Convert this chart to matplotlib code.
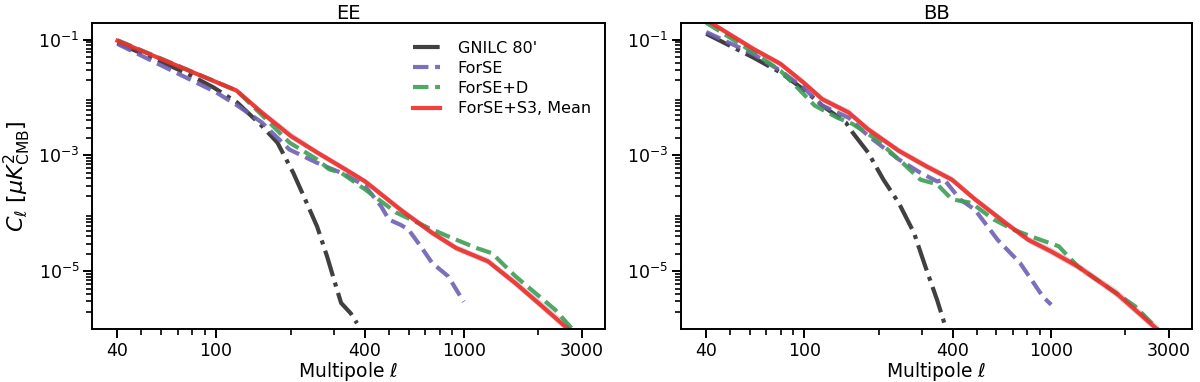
import numpy as np
import matplotlib
matplotlib.use("Agg")
import matplotlib.pyplot as plt
from matplotlib.ticker import FixedLocator, LogLocator, NullFormatter

# ---- data (log10 C_ell) ----
# EE
ee_mean_ell = [40, 121, 153, 201, 256, 332, 400, 556, 746, 931, 1252, 1619, 2013, 2672, 3000]
ee_mean = [-1.02, -1.88, -2.26, -2.67, -2.95, -3.24, -3.45, -3.94, -4.34, -4.60, -4.83, -5.21, -5.56, -6.02, -6.25]
ee_band_hi = [-0.98, -1.84, -2.20, -2.60, -2.90, -3.18, -3.40, -3.88, -4.28, -4.54, -4.77, -5.14, -5.48, -5.94, -6.17]
ee_band_lo = [-1.05, -1.92, -2.31, -2.72, -3.00, -3.29, -3.50, -3.99, -4.39, -4.65, -4.88, -5.27, -5.62, -6.08, -6.32]

ee_gnilc_ell = [40, 60, 80, 98, 122, 153, 177, 205, 229, 256, 281, 308, 320, 350, 371]
ee_gnilc = [-1.06, -1.38, -1.63, -1.83, -2.09, -2.49, -2.78, -3.30, -3.76, -4.23, -4.75, -5.32, -5.55, -5.73, -5.90]

ee_forse_ell = [40, 100, 122, 153, 198, 256, 332, 400, 464, 499, 556, 598, 670, 746, 866, 1000]
ee_forse = [-1.075, -1.91, -2.14, -2.43, -2.90, -3.13, -3.33, -3.53, -3.88, -4.11, -4.20, -4.28, -4.57, -4.86, -5.09, -5.53]

ee_forsed_ell = [40, 121, 153, 198, 256, 286, 320, 400, 535, 718, 866, 1124, 1300, 1619, 2344, 2730, 3000]
ee_forsed = [-1.01, -1.88, -2.30, -2.78, -3.07, -3.24, -3.30, -3.59, -3.99, -4.25, -4.40, -4.60, -4.69, -5.09, -5.67, -5.99, -6.20]

# BB
bb_mean_ell = [40, 62, 80, 99, 118, 151, 181, 241, 309, 396, 491, 654, 808, 1000, 1283, 1533, 1834, 2193, 2665, 3000]
bb_mean = [-0.66, -1.16, -1.42, -1.74, -2.03, -2.26, -2.55, -2.92, -3.18, -3.42, -3.76, -4.17, -4.46, -4.66, -4.92, -5.15, -5.38, -5.67, -5.99, -6.25]
bb_band_hi = [-0.62, -1.11, -1.37, -1.69, -1.97, -2.20, -2.49, -2.86, -3.12, -3.36, -3.70, -4.11, -4.40, -4.59, -4.85, -5.08, -5.30, -5.59, -5.91, -6.17]
bb_band_lo = [-0.70, -1.21, -1.47, -1.79, -2.08, -2.31, -2.60, -2.97, -3.23, -3.47, -3.81, -4.22, -4.51, -4.72, -4.98, -5.21, -5.45, -5.74, -6.06, -6.32]

bb_gnilc_ell = [40, 62, 80, 99, 118, 147, 157, 181, 209, 241, 278, 309, 345, 369, 385]
bb_gnilc = [-0.90, -1.31, -1.57, -1.86, -2.14, -2.43, -2.61, -2.95, -3.42, -3.82, -4.34, -4.92, -5.50, -5.90, -6.10]

bb_forse_ell = [40, 62, 80, 99, 118, 151, 181, 241, 295, 345, 369, 427, 491, 607, 748, 832, 925, 1000]
bb_forse = [-0.87, -1.25, -1.54, -1.83, -2.14, -2.35, -2.66, -3.07, -3.30, -3.45, -3.42, -3.76, -3.94, -4.46, -4.86, -5.15, -5.44, -5.58]

bb_forsed_ell = [40, 62, 80, 95, 110, 136, 157, 195, 250, 295, 345, 396, 474, 586, 700, 866, 1072, 1283, 1533, 2193, 2720, 3000]
bb_forsed = [-0.71, -1.22, -1.54, -1.86, -2.14, -2.35, -2.46, -2.72, -3.13, -3.42, -3.50, -3.76, -3.82, -4.11, -4.28, -4.43, -4.57, -4.92, -5.15, -5.61, -6.02, -6.20]

major_ticks = [40, 100, 400, 1000, 3000]

c_black = "#2b2b2b"
c_purple = "#6f60b3"
c_green = "#3d9e55"
c_red = "#f22a2a"

plt.rcParams["font.family"] = "DejaVu Sans"
fig = plt.figure(figsize=(12, 3.82), dpi=100)
ax1 = fig.add_axes([0.0767, 0.1387, 0.4275, 0.80])
ax2 = fig.add_axes([0.5675, 0.1387, 0.4258, 0.80])


def draw(ax, mean_ell, mean, lo, hi, g_ell, g, f_ell, f, d_ell, d, title):
    p = lambda v: 10.0 ** np.array(v)
    ax.fill_between(mean_ell, p(lo), p(hi), color="#b8b8b8", alpha=0.55, lw=0)
    ax.plot(g_ell, p(g), ls="-.", color=c_black, lw=3, alpha=0.9, label="GNILC 80'")
    ax.plot(f_ell, p(f), ls="--", color=c_purple, lw=3, alpha=0.9, label="ForSE")
    ax.plot(d_ell, p(d), ls="--", color=c_green, lw=3, alpha=0.9, label="ForSE+D")
    ax.plot(mean_ell, p(mean), ls="-", color=c_red, lw=3, alpha=0.9, label="ForSE+S3, Mean")
    ax.set_xscale("log")
    ax.set_yscale("log")
    ax.set_xlim(31.6, 3720)
    ax.set_ylim(1e-6, 0.19)
    ax.xaxis.set_major_locator(FixedLocator(major_ticks))
    ax.set_xticklabels([str(t) for t in major_ticks])
    ax.xaxis.set_minor_locator(LogLocator(base=10, subs=np.arange(2, 10)))
    ax.xaxis.set_minor_formatter(NullFormatter())
    ax.yaxis.set_major_locator(FixedLocator([1e-5, 1e-3, 1e-1]))
    ax.yaxis.set_minor_locator(LogLocator(base=10, subs=np.arange(2, 10), numticks=20))
    ax.yaxis.set_minor_formatter(NullFormatter())
    ax.tick_params(which="major", length=6.5, width=1.4, labelsize=12.5, pad=2.5)
    ax.tick_params(which="minor", length=4, width=1.2)
    for s in ax.spines.values():
        s.set_linewidth(1.4)
    ax.set_title(title, fontsize=14, pad=3)
    ax.set_xlabel(r"Multipole $\ell$", fontsize=13.5, labelpad=0)


draw(ax1, ee_mean_ell, ee_mean, ee_band_lo, ee_band_hi, ee_gnilc_ell, ee_gnilc,
     ee_forse_ell, ee_forse, ee_forsed_ell, ee_forsed, "EE")
draw(ax2, bb_mean_ell, bb_mean, bb_band_lo, bb_band_hi, bb_gnilc_ell, bb_gnilc,
     bb_forse_ell, bb_forse, bb_forsed_ell, bb_forsed, "BB")

ax1.set_ylabel(r"$C_\ell\ [\mu K^2_{\rm CMB}]$", fontsize=16, labelpad=4)

handles, labels = ax1.get_legend_handles_labels()
ax1.legend(handles, labels, loc="upper right", frameon=False, fontsize=11.5,
           handlelength=1.7, handletextpad=1.1, labelspacing=0.32,
           borderaxespad=0.5, bbox_to_anchor=(1.0, 0.99))

fig.savefig("out.png", dpi=100)
